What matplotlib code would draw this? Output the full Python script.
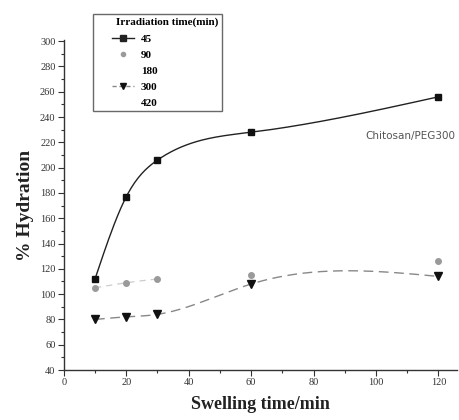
import numpy as np
import matplotlib
matplotlib.use("Agg")
import matplotlib.pyplot as plt
from matplotlib.lines import Line2D
from matplotlib.legend_handler import HandlerLine2D
from matplotlib.ticker import MultipleLocator

swell_time = [10, 20, 30, 60, 120]
hyd_45 = [112, 177, 206, 228, 256]
hyd_90 = [105, 109, 112, 115, 126]
hyd_300 = [80, 82, 84, 108, 114]
legend_labels = ["45", "90", "180", "300", "420"]


def natural_spline(x, y, n=200):
    x = np.asarray(x, float); y = np.asarray(y, float)
    k = len(x); h = np.diff(x)
    A = np.zeros((k, k)); b = np.zeros(k)
    A[0, 0] = A[-1, -1] = 1
    for i in range(1, k - 1):
        A[i, i - 1] = h[i - 1]; A[i, i] = 2 * (h[i - 1] + h[i]); A[i, i + 1] = h[i]
        b[i] = 3 * ((y[i + 1] - y[i]) / h[i] - (y[i] - y[i - 1]) / h[i - 1])
    c = np.linalg.solve(A, b)
    xs = np.linspace(x[0], x[-1], n); ys = np.empty_like(xs)
    for j, t in enumerate(xs):
        i = min(np.searchsorted(x, t, side="right") - 1, k - 2)
        d = t - x[i]
        bb = (y[i + 1] - y[i]) / h[i] - h[i] * (2 * c[i] + c[i + 1]) / 3
        dd = (c[i + 1] - c[i]) / (3 * h[i])
        ys[j] = y[i] + bb * d + c[i] * d ** 2 + dd * d ** 3
    return xs, ys


plt.rcParams['font.family'] = ['Liberation Serif', 'DejaVu Serif']
fig = plt.figure(figsize=(4.59, 4.20), dpi=100)
ax = fig.add_axes([0.139, 0.119, 0.857, 0.786])

xs, ys = natural_spline(swell_time, hyd_45)
ax.plot(xs, ys, color="#222222", lw=1.0)
ax.plot(swell_time, hyd_45, ls="none", marker="s", ms=5, color="#111111")

xs, ys = natural_spline(swell_time[:3], hyd_90[:3])
ax.plot(xs, ys, color="#cccccc", lw=0.9, ls=(0, (5, 4)))
ax.plot(swell_time, hyd_90, ls="none", marker="o", ms=4, color="#9a9a9a")

xs, ys = natural_spline(swell_time, hyd_300)
ax.plot(xs, ys, color="#888888", lw=1.0, ls=(0, (7, 4)))
ax.plot(swell_time, hyd_300, ls="none", marker="v", ms=6, color="#111111")

ax.set_xlim(0, 126)
ax.set_ylim(40, 301)
ax.xaxis.set_major_locator(MultipleLocator(20))
ax.xaxis.set_minor_locator(MultipleLocator(10))
ax.yaxis.set_major_locator(MultipleLocator(20))
ax.yaxis.set_minor_locator(MultipleLocator(10))
for s in ("top", "right"):
    ax.spines[s].set_visible(False)
for s in ("left", "bottom"):
    ax.spines[s].set_color("#333333")
    ax.spines[s].set_linewidth(1.0)
ax.tick_params(which="major", direction="out", length=4, width=0.8, labelsize=7.5,
               colors="#333333", pad=2)
ax.tick_params(which="minor", direction="out", length=2, width=0.8, colors="#333333")

ax.set_xlabel("Swelling time/min", fontsize=13, fontweight="bold", color="#222222", labelpad=6)
ax.set_ylabel("% Hydration", fontsize=14, fontweight="bold", color="#222222", labelpad=4)

ax.text(0.995, 0.71, "Chitosan/PEG300", transform=ax.transAxes, ha="right", va="center",
        fontsize=7.5, color="#555555", family="DejaVu Sans")

handles = [
    Line2D([], [], color="#222222", lw=1.0, marker="s", ms=5),
    Line2D([], [], ls="none", marker="o", ms=3, color="#9a9a9a"),
    Line2D([], [], ls="none"),
    Line2D([], [], color="#888888", lw=1.0, ls=(0, (3, 2)), marker="v", ms=5, mfc="#111111", mec="#111111"),
    Line2D([], [], ls="none"),
]
leg = fig.legend(handles, legend_labels, title="Irradiation time(min)",
                 loc="upper left", bbox_to_anchor=(93 / 459, 0, 129 / 459, 1 - 14 / 420),
                 borderaxespad=0, mode="expand",
                 handler_map={Line2D: HandlerLine2D(xpad=1.4)},
                 fontsize=8, title_fontproperties={"size": 8, "weight": "bold"},
                 frameon=True, fancybox=False, edgecolor="#444444", handlelength=3.4,
                 handletextpad=0.6, labelspacing=0.57, borderpad=0.3, alignment="left")
leg.get_frame().set_linewidth(1.0)
for t in leg.get_texts():
    t.set_fontweight("bold")
leg._legend_box.sep = 5
leg._legend_box.align = "right"

fig.savefig("out.png", dpi=100)
